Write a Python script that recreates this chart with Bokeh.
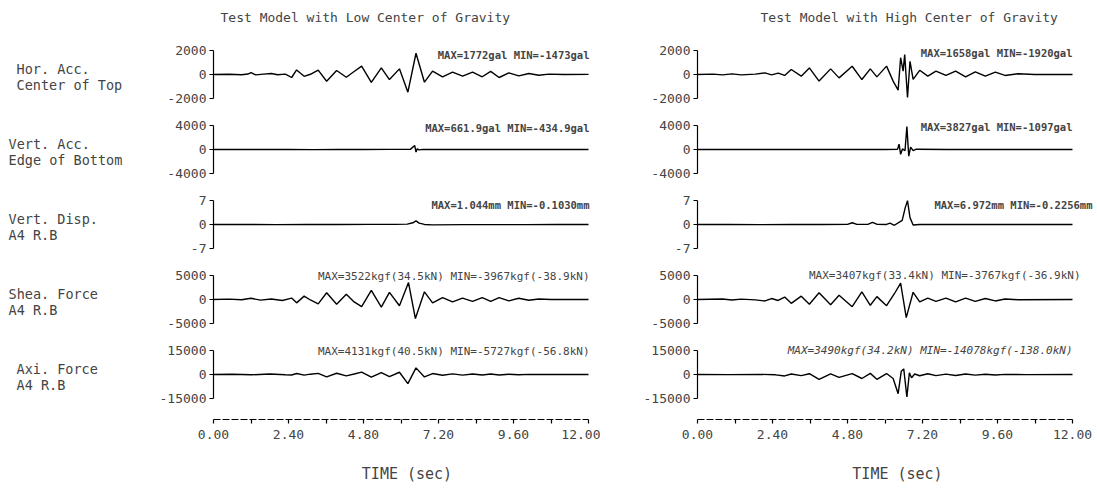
from bokeh.plotting import figure
from bokeh.models import Range1d, FixedTicker, Label, NumeralTickFormatter, ColumnDataSource
from bokeh.layouts import row, column
from bokeh.embed import file_html
from bokeh.resources import INLINE

FONT = "DejaVu Sans Mono"

# ---------------- data ----------------
title_low = "Test Model with Low Center of Gravity"
title_high = "Test Model with High Center of Gravity"
row_labels = [("Hor. Acc.", "Center of Top"), ("Vert. Acc.", "Edge of Bottom"),
              ("Vert. Disp.", "A4 R.B"), ("Shea. Force", "A4 R.B"), ("Axi. Force", "A4 R.B")]
y_limits = [2000, 4000, 7, 5000, 15000]
time_ticks = [0, 2.4, 4.8, 7.2, 9.6, 12.0]
time_minor_ticks = [1.2, 3.6, 6.0, 8.4, 10.8]
x_label = "TIME (sec)"

low_stats = ["MAX=1772gal MIN=-1473gal", "MAX=661.9gal MIN=-434.9gal", "MAX=1.044mm MIN=-0.1030mm",
             "MAX=3522kgf(34.5kN) MIN=-3967kgf(-38.9kN)", "MAX=4131kgf(40.5kN) MIN=-5727kgf(-56.8kN)"]
high_stats = ["MAX=1658gal MIN=-1920gal", "MAX=3827gal MIN=-1097gal", "MAX=6.972mm MIN=-0.2256mm",
              "MAX=3407kgf(33.4kN) MIN=-3767kgf(-36.9kN)", "MAX=3490kgf(34.2kN) MIN=-14078kgf(-138.0kN)"]

low_hacc_t = [0, 0.5, 0.9, 1.1, 1.2, 1.35, 1.6, 1.85, 2.05, 2.3, 2.5, 2.66, 2.9, 3.1, 3.35, 3.62, 3.94, 4.25, 4.5, 4.74,
              5.05, 5.37, 5.63, 5.95, 6.22, 6.48, 6.75, 7.01, 7.33, 7.65, 7.97, 8.29, 8.6, 8.87, 9.14, 9.45, 9.77, 10.09,
              10.41, 10.73, 11.2, 12.0]
low_hacc_v = [0, 20, -20, 40, 160, -30, 30, 80, -20, 30, -250, 380, -150, 20, 370, -560, 330, -230, 250, 700,
              -650, 560, -420, 470, -1473, 1772, -640, 280, -200, 190, -140, 200, -190, 260, -250, 140, -120, 80,
              -60, 30, 0, 10]

low_vacc_t = [0, 0.8, 1.6, 2.4, 3.2, 4.0, 4.8, 5.6, 6.3, 6.44, 6.48, 6.52, 6.58, 6.7, 7.2, 8.0, 8.8, 9.6, 10.4, 11.2, 12.0]
low_vacc_v = [0, 15, -10, 10, -15, 10, -10, 15, 20, 662, -435, 120, -60, 20, -10, 10, -10, 10, -5, 5, 0]

low_vdisp_t = [0, 1.0, 2.0, 3.0, 4.0, 5.0, 5.8, 6.2, 6.38, 6.48, 6.58, 6.75, 7.0, 8.0, 9.0, 10.0, 11.0, 12.0]
low_vdisp_v = [0, 0.02, -0.03, 0.02, -0.02, 0.03, 0.05, 0.1, 0.5, 1.044, 0.4, 0.02, -0.103, -0.05, -0.04, -0.03, -0.02, -0.02]

low_shear_t = [0, 0.5, 0.9, 1.2, 1.5, 1.85, 2.2, 2.5, 2.66, 2.9, 3.1, 3.35, 3.62, 3.94, 4.25, 4.5, 4.74, 5.05, 5.37, 5.63,
               5.95, 6.24, 6.46, 6.75, 7.01, 7.33, 7.65, 7.97, 8.29, 8.6, 8.87, 9.14, 9.45, 9.77, 10.09, 10.41, 10.8, 12.0]
low_shear_v = [0, 80, -60, 250, -120, 100, -200, 300, -700, 700, -100, -900, 1400, -1000, 1100, -500, -1500, 1900, -1600, 1500,
               -1300, 3522, -3967, 1600, -700, 400, -500, 300, -400, 400, -400, 400, -300, 250, -150, 100, 0, 0]

low_axial_t = [0, 0.6, 1.2, 1.8, 2.3, 2.5, 2.66, 2.9, 3.1, 3.35, 3.62, 3.94, 4.25, 4.5, 4.74, 5.05, 5.37, 5.63, 5.95, 6.22,
               6.48, 6.75, 7.01, 7.33, 7.65, 7.97, 8.29, 8.6, 8.87, 9.14, 9.45, 9.77, 10.09, 10.6, 11.3, 12.0]
low_axial_v = [0, 200, -200, 300, -200, -300, 600, -400, 200, 700, -1500, 800, -900, 300, 1500, -1700, 1200, -1300, 1400, -5727,
               4131, -1500, 600, -500, 400, -400, 300, -300, 300, -300, 200, -200, 100, 0, 100, 0]

high_hacc_t = [0, 0.5, 0.8, 1.1, 1.4, 1.85, 2.16, 2.37, 2.58, 2.79, 3.0, 3.32, 3.58, 3.89, 4.26, 4.53, 4.95, 5.26, 5.53, 5.74,
               6.05, 6.26, 6.42, 6.5, 6.58, 6.63, 6.72, 6.8, 6.9, 7.11, 7.37, 7.63, 7.95, 8.26, 8.58, 8.89, 9.21, 9.53, 9.84,
               10.26, 10.79, 12.0]
high_hacc_v = [0, 30, -30, 50, -30, 30, 140, -30, 110, -80, 420, -140, 550, -550, 470, -280, 690, -420, 470, -200,
               700, -550, -1300, 1400, 280, 1658, -1920, 1100, -400, 350, -140, 280, -80, 280, -200, 220, -140, 200, -80,
               60, 0, 0]

high_vacc_t = [0, 1.0, 2.0, 3.0, 4.0, 5.0, 6.0, 6.4, 6.45, 6.5, 6.56, 6.64, 6.7, 6.76, 6.82, 6.9, 7.0, 8.0, 9.0, 10.0, 11.0, 12.0]
high_vacc_v = [0, 10, -10, 10, -10, 10, -10, 20, 900, -800, 100, -200, 3827, -1097, 400, -200, 50, -10, 10, -10, 5, 0]

high_vdisp_t = [0, 1.0, 2.0, 3.0, 4.0, 4.8, 4.95, 5.1, 5.45, 5.6, 5.75, 6.05, 6.16, 6.3, 6.55, 6.65, 6.72, 6.8, 6.9, 7.1,
                8.0, 9.0, 10.0, 11.0, 12.0]
high_vdisp_v = [0, 0.02, -0.05, 0.02, 0.0, 0.05, 0.5, 0.05, 0.05, 0.6, 0.05, 0.02, 0.4, -0.2256, 1.2, 5.0, 6.972, 2.0, -0.15, 0.0,
                0.02, 0.0, 0.02, 0.0, 0.0]

high_shear_t = [0, 0.8, 1.1, 1.4, 1.85, 2.16, 2.37, 2.58, 2.79, 3.0, 3.32, 3.58, 3.89, 4.26, 4.53, 4.95, 5.26, 5.53, 5.74, 6.05,
                6.3, 6.5, 6.68, 6.9, 7.11, 7.37, 7.63, 7.95, 8.26, 8.58, 8.89, 9.21, 9.53, 9.84, 10.26, 12.0]
high_shear_v = [0, 100, -100, 80, -80, -300, 200, -200, 500, -800, 700, -1000, 1400, -1100, 900, -1500, 1600, -1200, 600, -1300,
                1200, 3407, -3767, 1500, -500, 300, -400, 300, -500, 300, -400, 200, -300, 100, -50, 0]

high_axial_t = [0, 1.0, 2.0, 2.5, 2.79, 3.0, 3.32, 3.58, 3.89, 4.26, 4.53, 4.95, 5.26, 5.53, 5.74, 6.05, 6.26, 6.42, 6.52, 6.6,
                6.7, 6.78, 6.85, 6.95, 7.11, 7.37, 7.63, 7.95, 8.26, 8.58, 8.89, 9.21, 9.53, 9.84, 10.5, 12.0]
high_axial_v = [0, -100, 100, -200, -900, 300, -700, 500, -3000, 400, -1800, 500, -2500, 700, -3000, 600, -2500, -12000, 2000, 3490,
                -14078, 1000, -2000, 300, -800, 500, -700, 200, -600, 300, -400, 200, -300, 100, -100, 0]

low_series = [(low_hacc_t, low_hacc_v), (low_vacc_t, low_vacc_v), (low_vdisp_t, low_vdisp_v),
              (low_shear_t, low_shear_v), (low_axial_t, low_axial_v)]
high_series = [(high_hacc_t, high_hacc_v), (high_vacc_t, high_vacc_v), (high_vdisp_t, high_vdisp_v),
               (high_shear_t, high_shear_v), (high_axial_t, high_axial_v)]

# ---------------- layout (pixels) ----------------
TOTAL_H = 493
LABEL_W = 150
COL_W = {"L": 450, "R": 497}
BORDER_L = {"L": 63, "R": 97}
PX_PER_SEC = 31.25
HALF = 24            # pixels from zero line to +limit
ZERO_FROM_BOTTOM = 38
heights = [112, 75, 75, 75, 75]
zeros = [74, 149, 224, 299, 374]   # canvas y of each zero line
label_x = [16, 8, 8, 8, 16]
stat_right = {"L": [376, 376, 376, 376, 376], "R": [375, 375, 395, 383, 375]}
stat_dy = {"L": [20, 22, 20, 23, 23], "R": [22, 23, 20, 24, 24]}
stat_size = ["10.5px", "10.5px", "10.5px", "11px", "11px"]
stat_style = {"L": ["bold", "bold", "bold", "normal", "normal"], "R": ["bold", "bold", "bold", "normal", "italic"]}
title_x = {"L": 7, "R": 63}


def fmt(v):
    return str(int(v)) if float(v).is_integer() else str(v)


def style_fig(p):
    p.outline_line_color = None
    p.grid.visible = False
    p.background_fill_color = "white"
    p.border_fill_color = "white"


def make_panel(side, i, t, v, stat):
    w = COL_W[side]
    bl = BORDER_L[side]
    h = heights[i]
    lim = y_limits[i]
    fw = w - bl
    p = figure(width=w, height=h,
               x_range=Range1d(0, fw / PX_PER_SEC),
               y_range=Range1d(-ZERO_FROM_BOTTOM / HALF * lim, (h - ZERO_FROM_BOTTOM) / HALF * lim),
               output_backend="svg", toolbar_location=None, x_axis_location=None,
               min_border_left=bl, min_border_right=0, min_border_top=0, min_border_bottom=0)
    style_fig(p)
    src = ColumnDataSource(dict(t=t, v=v))
    p.line("t", "v", source=src, line_color="black", line_width=1.4)
    ax = p.yaxis[0]
    ax.bounds = (-lim, lim)
    ax.ticker = FixedTicker(ticks=[-lim, 0, lim])
    ax.major_label_overrides = {-lim: fmt(-lim), 0: "0", lim: fmt(lim)}
    ax.minor_tick_line_color = None
    ax.major_tick_in = 0
    ax.major_tick_out = 4
    ax.axis_line_width = 1.2
    ax.major_tick_line_width = 1.2
    ax.major_label_text_font = FONT
    ax.major_label_text_font_size = "13px"
    ax.major_label_standoff = 3
    p.add_layout(Label(x=stat_right[side][i], y=ZERO_FROM_BOTTOM + stat_dy[side][i],
                       x_units="screen", y_units="screen",
                       text=stat, text_font=FONT, text_font_size=stat_size[i],
                       text_font_style=stat_style[side][i], text_align="right", text_baseline="middle"))
    if i == 0:
        p.add_layout(Label(x=title_x[side], y=h - 17, x_units="screen", y_units="screen",
                           text=title_low if side == "L" else title_high,
                           text_font=FONT, text_font_size="13px", text_baseline="middle"))
    return p


def make_axis(side):
    w = COL_W[side]
    bl = BORDER_L[side]
    fw = w - bl
    p = figure(width=w, height=81, x_range=Range1d(0, fw / PX_PER_SEC), y_range=Range1d(0, 1),
               output_backend="svg", toolbar_location=None, y_axis_location=None,
               min_border_left=bl, min_border_right=0, min_border_top=6, min_border_bottom=74)
    style_fig(p)
    ax = p.xaxis[0]
    ax.bounds = (0, 12)
    ax.ticker = FixedTicker(ticks=time_ticks, minor_ticks=time_minor_ticks)
    ax.formatter = NumeralTickFormatter(format="0.00")
    ax.axis_line_dash = "7 2"
    ax.axis_line_width = 1.2
    ax.major_tick_in = 0
    ax.major_tick_out = 4
    ax.minor_tick_in = 0
    ax.minor_tick_out = 4
    ax.major_tick_line_width = 1.2
    ax.minor_tick_line_width = 1.2
    ax.major_label_text_font = FONT
    ax.major_label_text_font_size = "13px"
    ax.major_label_standoff = 6
    ax.axis_label = x_label
    ax.axis_label_text_font = FONT
    ax.axis_label_text_font_size = "15px"
    ax.axis_label_text_font_style = "normal"
    ax.axis_label_standoff = 23
    return p


def make_label_column():
    p = figure(width=LABEL_W, height=TOTAL_H, x_range=Range1d(0, 1), y_range=Range1d(0, 1),
               output_backend="svg", toolbar_location=None, x_axis_location=None, y_axis_location=None,
               min_border_left=0, min_border_right=0, min_border_top=0, min_border_bottom=0)
    style_fig(p)
    for i, (l1, l2) in enumerate(row_labels):
        for text, dy in ((l1, -6), (l2, 10)):
            p.add_layout(Label(x=label_x[i], y=TOTAL_H - (zeros[i] + dy), x_units="screen", y_units="screen",
                               text=text, text_font=FONT, text_font_size="13.5px", text_baseline="middle"))
    return p


left = [make_panel("L", i, low_series[i][0], low_series[i][1], low_stats[i]) for i in range(5)]
right = [make_panel("R", i, high_series[i][0], high_series[i][1], high_stats[i]) for i in range(5)]
left.append(make_axis("L"))
right.append(make_axis("R"))

layout = row(make_label_column(), column(*left, spacing=0), column(*right, spacing=0), spacing=0)

open("out.html", "w").write(file_html(layout, INLINE))
